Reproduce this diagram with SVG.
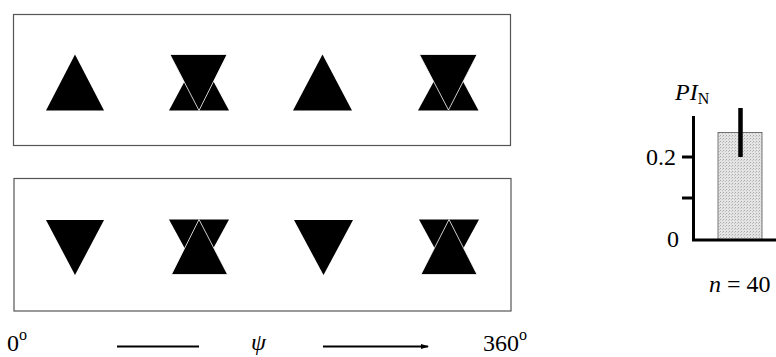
<svg xmlns="http://www.w3.org/2000/svg" width="776" height="357" viewBox="0 0 776 357">
<style>
.box{fill:#fff;stroke:#555;stroke-width:1.2}
.tri{fill:#000}
.ov{fill:#000;stroke:#fff;stroke-width:0.8}
.t{font-family:"Liberation Serif","Times New Roman",serif;font-size:24px;fill:#000}
.i{font-style:italic}
.ax{stroke:#000;stroke-width:3;fill:none}
</style>
<defs>
<marker id="ah" markerWidth="8" markerHeight="6" refX="7" refY="3" orient="auto" markerUnits="userSpaceOnUse">
<path d="M0,0.5 L8,3 L0,5.5 Z" fill="#000"/>
</marker>
<pattern id="dots" width="3" height="3" patternUnits="userSpaceOnUse">
<rect width="3" height="3" fill="#e4e4e4"/>
<rect x="0" y="0" width="1" height="1" fill="#aaa"/>
<rect x="2" y="1" width="1" height="1" fill="#c4c4c4"/>
</pattern>
</defs>

<g id="panel-top">
<rect class="box" x="13.5" y="14.5" width="497" height="131"/>
<polygon class="tri" points="46,110.5 104,110.5 75,54.5"/>
<g>
<polygon class="tri" points="169,110.5 229,110.5 199,54.5"/>
<polygon class="ov" points="170,54.5 227,54.5 199,110.5"/>
</g>
<polygon class="tri" points="293,110.5 352,110.5 322.5,54.5"/>
<g>
<polygon class="tri" points="418,110.5 478.5,110.5 448.5,54.5"/>
<polygon class="ov" points="419.5,54.5 477,54.5 448.5,110"/>
</g>
</g>

<g id="panel-bottom">
<rect class="box" x="14" y="178.5" width="497" height="132.5"/>
<polygon class="tri" points="46,220 104,220 75,275"/>
<g>
<polygon class="tri" points="169,219.5 229,219.5 199,274.5"/>
<polygon class="ov" points="171.5,274.5 227.5,274.5 199,219.5"/>
</g>
<polygon class="tri" points="294,220 353,220 323.5,275"/>
<g>
<polygon class="tri" points="419,219.5 479,219.5 449,274.5"/>
<polygon class="ov" points="421,274.5 477,274.5 449,219.5"/>
</g>
</g>

<g id="chart">
<rect x="718" y="132.5" width="44" height="107.5" fill="url(#dots)" stroke="#555" stroke-width="0.8"/>
<line x1="740.5" y1="108" x2="740.5" y2="157" stroke="#000" stroke-width="4.5"/>
<polyline class="ax" points="693.5,116 693.5,240 776,240"/>
<line x1="682" y1="157" x2="693.5" y2="157" class="ax"/>
<line x1="682" y1="198" x2="693.5" y2="198" class="ax"/>
<text class="t" x="676" y="165" text-anchor="end">0.2</text>
<text class="t" x="679" y="247" text-anchor="end">0</text>
<text class="t" x="675" y="100"><tspan class="i">PI</tspan><tspan font-size="16" dy="4">N</tspan></text>
<text class="t" x="709" y="292"><tspan class="i">n</tspan> = 40</text>
</g>

<g id="connectors">
<line x1="117" y1="346.5" x2="199" y2="346.5" stroke="#000" stroke-width="2"/>
<line x1="323" y1="346.5" x2="428" y2="346.5" stroke="#000" stroke-width="2" marker-end="url(#ah)"/>
</g>

<g id="axis-labels">
<text class="t" x="7" y="351">0<tspan font-size="16" dy="-11">o</tspan></text>
<text class="t i" x="251" y="350">ψ</text>
<text class="t" x="483" y="351">360<tspan font-size="16" dy="-11">o</tspan></text>
</g>
</svg>
